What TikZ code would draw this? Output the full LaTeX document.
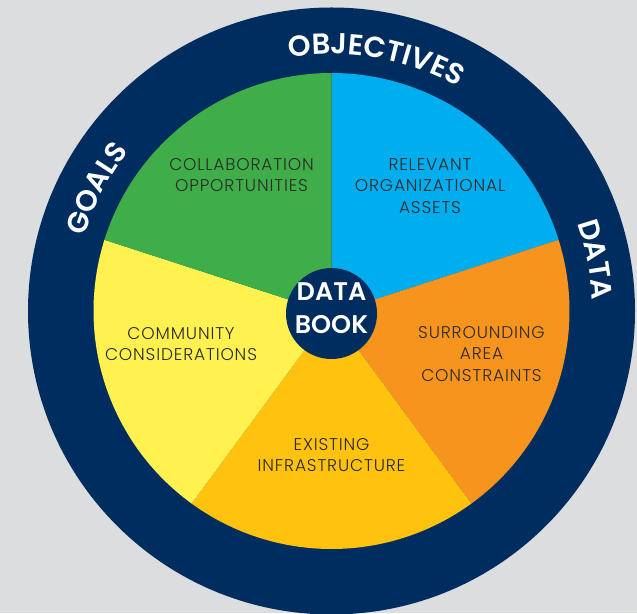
\documentclass[tikz,border=0pt]{standalone}
\usepackage{fontspec}
\setmainfont[LetterSpace=5]{Poppins Light}
\newfontfamily\headfont{Poppins SemiBold}
\usetikzlibrary{decorations.text,calc}
\definecolor{bgc}{HTML}{DCDDDF}
\definecolor{navy}{HTML}{002D5F}
\definecolor{slblue}{HTML}{00AEEF}
\definecolor{slgreen}{HTML}{3FAE49}
\definecolor{slyellow}{HTML}{FFF14F}
\definecolor{slgold}{HTML}{FFC20E}
\definecolor{slorange}{HTML}{F7941D}
\definecolor{inktext}{HTML}{2A2A2A}
\tikzset{
  x=1pt,y=1pt,
  slice/.style={fill=#1,draw=none},
  lab/.style={align=center,text=inktext,font=\fontsize{17}{21.5}\selectfont,inner sep=0pt},
  hub/.style={circle,fill=navy,minimum size=91pt,inner sep=0pt},
  hubtext/.style={align=center,inner sep=0pt,text=white,font=\headfont\fontsize{25.5}{33}\selectfont},
  arctext/.style={decorate,decoration={text along path,text align=center,text={|\headfont\fontsize{29}{29}\selectfont\color{white}|#1}}}
}
\begin{document}
\begin{tikzpicture}
\useasboundingbox (0,0) rectangle (637,613);
\fill[bgc] (0,0) rectangle (637,613);
\coordinate (c) at (331.5,302);
\coordinate (apex) at (331.5,299.5);
\fill[navy] (c) circle[radius=303.5];
\fill[slice=slblue] (apex) -- ($(c)+(90:238)$) arc[start angle=90,end angle=17.4,radius=238] -- cycle;
\fill[slice=slorange] (apex) -- ($(c)+(17.4:238)$) arc[start angle=17.4,end angle=-54,radius=238] -- cycle;
\fill[slice=slgold] (apex) -- ($(c)+(-54:238)$) arc[start angle=-54,end angle=-126,radius=238] -- cycle;
\fill[slice=slyellow] (apex) -- ($(c)+(-126:238)$) arc[start angle=-126,end angle=-197.4,radius=238] -- cycle;
\fill[slice=slgreen] (apex) -- ($(c)+(162.6:238)$) arc[start angle=162.6,end angle=90,radius=238] -- cycle;
\node[hub] (hubn) at (apex) {};
\node[hubtext] (hubt) at (331.5,304.5) {DATA\\BOOK};
\node[lab] (n1) at (241.5,438) {COLLABORATION\\OPPORTUNITIES};
\node[lab] (n2) at (430,427) {RELEVANT\\ORGANIZATIONAL\\ASSETS};
\node[lab] (n3) at (481.5,259) {SURROUNDING\\AREA\\CONSTRAINTS};
\node[lab] (n4) at (331.5,158) {EXISTING\\INFRASTRUCTURE};
\node[lab] (n5) at (181,269) {COMMUNITY\\CONSIDERATIONS};
\path[arctext={OBJECTIVES}] (c) ++(110:257) arc[start angle=110,end angle=50,radius=257];
\path[arctext={GOALS}] (c) ++(180:258) arc[start angle=180,end angle=125,radius=258];
\path[arctext={DATA}] (c) ++(28:261) arc[start angle=28,end angle=-6,radius=261];
\end{tikzpicture}
\end{document}
